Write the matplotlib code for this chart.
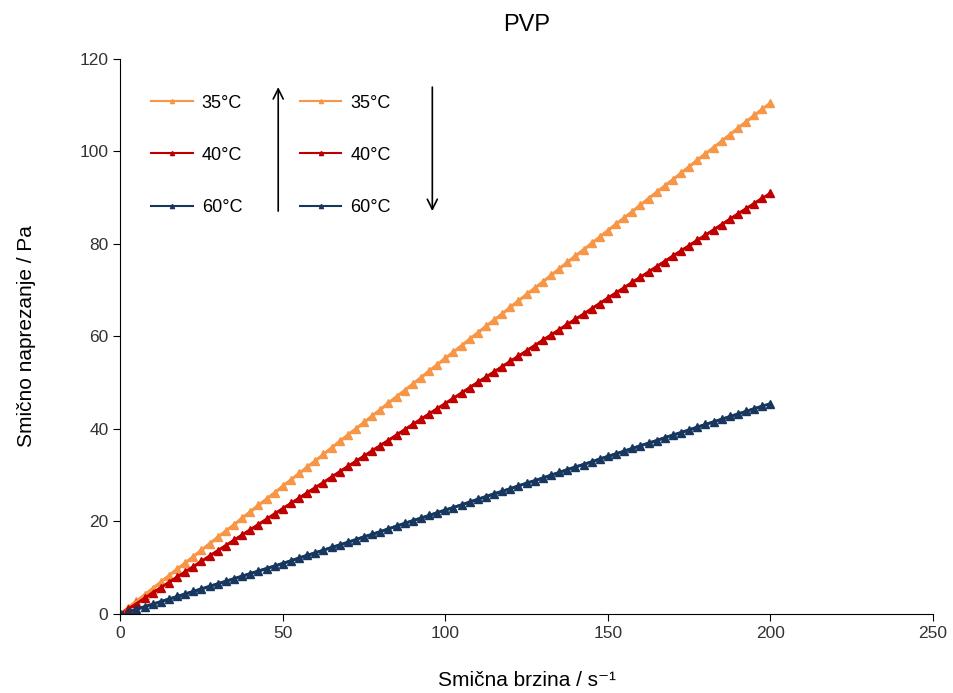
import numpy as np
import matplotlib
matplotlib.use("Agg")
import matplotlib.pyplot as plt

plt.rcParams['font.family'] = ['Liberation Sans', 'DejaVu Sans']

# Daten - Aufwaerts
x_up = [0, 5, 10, 15, 20, 25, 30, 35, 40, 45, 50, 55, 60, 65, 70, 75, 80, 85, 90, 95, 100,
        105, 110, 115, 120, 125, 130, 135, 140, 145, 150, 155, 160, 165, 170, 175, 180, 185, 190, 195, 200]
t35_up = [0, 2.8, 5.5, 8.3, 11.0, 13.8, 16.6, 19.3, 22.1, 24.8, 27.6, 30.4, 33.1, 35.9, 38.7, 41.4,
          44.2, 47.0, 49.7, 52.5, 55.3, 58.0, 60.8, 63.5, 66.3, 69.1, 71.8, 74.6, 77.4, 80.1, 82.9,
          85.6, 88.4, 91.2, 93.9, 96.7, 99.5, 102.2, 105.0, 107.8, 110.5]
t40_up = [0, 2.3, 4.6, 6.8, 9.1, 11.4, 13.7, 15.9, 18.2, 20.5, 22.8, 25.0, 27.3, 29.6, 31.9, 34.1,
          36.4, 38.7, 41.0, 43.2, 45.5, 47.8, 50.1, 52.3, 54.6, 56.9, 59.2, 61.4, 63.7, 66.0, 68.3,
          70.5, 72.8, 75.1, 77.4, 79.6, 81.9, 84.2, 86.5, 88.7, 91.0]
t60_up = [0, 1.0, 2.1, 3.2, 4.3, 5.4, 6.5, 7.6, 8.7, 9.8, 10.9, 12.1, 13.2, 14.4, 15.5, 16.7,
          17.8, 19.0, 20.2, 21.3, 22.5, 23.6, 24.8, 26.0, 27.1, 28.3, 29.4, 30.6, 31.8, 32.9, 34.1,
          35.2, 36.4, 37.5, 38.7, 39.8, 41.0, 42.1, 43.2, 44.4, 45.5]

# Abwaerts
x_down = [2.5, 7.5, 12.5, 17.5, 22.5, 27.5, 32.5, 37.5, 42.5, 47.5, 52.5, 57.5, 62.5, 67.5, 72.5,
          77.5, 82.5, 87.5, 92.5, 97.5, 102.5, 107.5, 112.5, 117.5, 122.5, 127.5, 132.5, 137.5,
          142.5, 147.5, 152.5, 157.5, 162.5, 167.5, 172.5, 177.5, 182.5, 187.5, 192.5, 197.5]
t35_down = [1.4, 4.1, 6.9, 9.7, 12.4, 15.2, 17.9, 20.7, 23.5, 26.2, 29.0, 31.7, 34.5, 37.3, 40.0,
            42.8, 45.6, 48.3, 51.1, 53.9, 56.6, 59.4, 62.2, 64.9, 67.7, 70.4, 73.2, 76.0, 78.7,
            81.5, 84.3, 87.0, 89.8, 92.5, 95.3, 98.1, 100.8, 103.6, 106.4, 109.1]
t40_down = [1.1, 3.4, 5.7, 8.0, 10.2, 12.5, 14.8, 17.1, 19.3, 21.6, 23.9, 26.2, 28.4, 30.7, 33.0,
            35.3, 37.5, 39.8, 42.1, 44.4, 46.6, 48.9, 51.2, 53.5, 55.7, 58.0, 60.3, 62.6, 64.8,
            67.1, 69.4, 71.7, 73.9, 76.2, 78.5, 80.8, 83.0, 85.3, 87.6, 89.9]
t60_down = [0.5, 1.6, 2.7, 3.8, 4.9, 6.0, 7.1, 8.2, 9.3, 10.4, 11.5, 12.7, 13.8, 14.9, 16.1,
            17.2, 18.4, 19.6, 20.7, 21.9, 23.0, 24.2, 25.4, 26.5, 27.7, 28.8, 30.0, 31.2, 32.3,
            33.5, 34.6, 35.8, 36.9, 38.1, 39.2, 40.4, 41.5, 42.7, 43.8, 44.9]

labels = ['35°C', '40°C', '60°C']
colors = ['#F79646', '#C00000', '#17375E']

fig = plt.figure(figsize=(9.54, 6.93), dpi=100)
ax = fig.add_axes([0.126, 0.114, 0.852, 0.801])

up = [t35_up, t40_up, t60_up]
down = [t35_down, t40_down, t60_down]
for y, c, l in zip(up, colors, labels):
    ax.plot(x_up, y, color=c, marker='^', markersize=6, linewidth=2, label=l)
for y, c, l in zip(down, colors, labels):
    ax.plot(x_down, y, color=c, marker='^', markersize=6, linewidth=2, label=l)

ax.set_xlim(0, 250)
ax.set_ylim(0, 120)
ax.set_xticks(np.arange(0, 251, 50))
ax.set_yticks(np.arange(0, 121, 20))
for s in ['top', 'right']:
    ax.spines[s].set_visible(False)
ax.tick_params(labelsize=12.5, labelcolor='#333333', direction='out', length=5)

ax.set_title('PVP', fontsize=17, pad=20)
ax.set_xlabel('Smična brzina / s⁻¹', fontsize=15, labelpad=22)
ax.set_ylabel('Smično naprezanje / Pa', fontsize=15, labelpad=31)

leg = ax.legend(ncol=2, loc='upper left', bbox_to_anchor=(0.018, 0.965), frameon=False,
                fontsize=13, handlelength=2.3, handletextpad=0.5, labelspacing=1.95,
                columnspacing=3.2, numpoints=1, markerscale=0.5)
for h in leg.legend_handles:
    h.set_linewidth(1.5)

# Pfeile fuer auf/ab
ax.annotate('', xy=(48.6, 114.5), xytext=(48.6, 86.5),
            arrowprops=dict(arrowstyle='->', color='black', lw=1.2, mutation_scale=18))
ax.annotate('', xy=(96, 86.5), xytext=(96, 114.5),
            arrowprops=dict(arrowstyle='->', color='black', lw=1.2, mutation_scale=18))

plt.savefig('out.png', dpi=100)
